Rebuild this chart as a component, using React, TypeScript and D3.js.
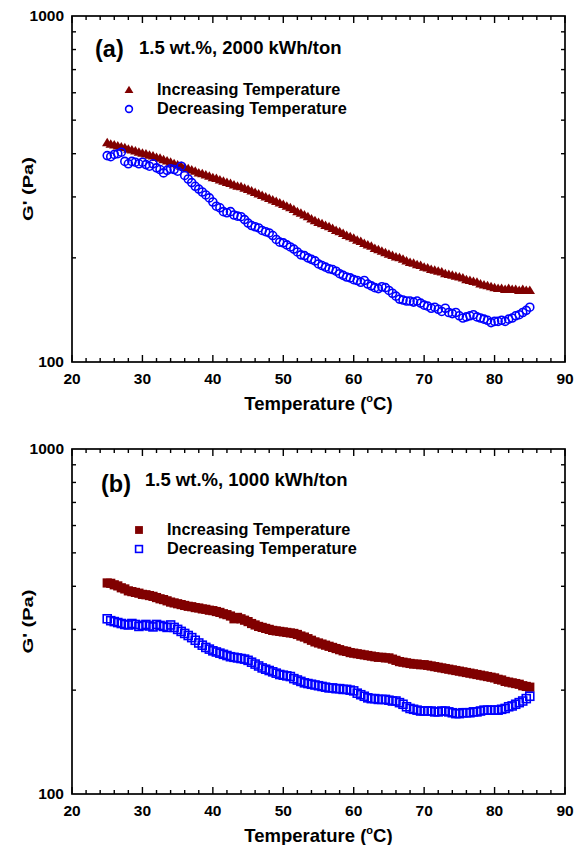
import React from 'react';
import * as d3 from 'd3';

// Temperatures (°C), one reading every 0.5 °C from 25 to 85
const temps: number[] = d3.range(0, 121).map((i) => 25 + i * 0.5);

const xMajorTicks = [20, 30, 40, 50, 60, 70, 80, 90];
const yLabelTicks = [100, 1000];
const yMinorTicks = [200, 300, 400, 500, 600, 700, 800, 900];

// Panel (a) 1.5 wt.%, 2000 kWh/ton
const aIncreasing = [
  430, 426, 424, 421, 418, 416, 412, 410, 407, 404,
  401, 399, 396, 394, 390, 388, 384, 381, 378, 374,
  371, 368, 365, 362, 359, 356, 352, 350, 347, 344,
  341, 339, 336, 333, 330, 328, 325, 322, 321, 318,
  315, 312, 309, 306, 303, 300, 297, 294, 291, 288,
  285, 282, 279, 276, 272, 269, 266, 263, 259, 256,
  253, 251, 248, 246, 243, 240, 238, 235, 232, 230,
  228, 225, 223, 220, 218, 216, 213, 211, 209, 207,
  205, 203, 201, 200, 198, 196, 194, 193, 191, 190,
  188, 187, 185, 184, 183, 182, 180, 179, 178, 177,
  176, 175, 173, 172, 171, 170, 168, 167, 166, 165,
  164, 163, 163, 162, 163, 162, 162, 161, 162, 161, 161,
];
const aDecreasing = [
  395, 392, 398, 400, 404, 380, 374, 380, 378, 374,
  378, 372, 368, 374, 364, 360, 352, 358, 362, 360,
  356, 368, 346, 338, 330, 322, 316, 310, 304, 298,
  290, 282, 279, 272, 270, 272, 266, 264, 263, 258,
  252, 248, 246, 244, 240, 238, 236, 232, 226, 222,
  221, 218, 215, 212, 208, 204, 203, 200, 198, 196,
  192, 190, 188, 186, 185, 183, 180, 178, 176, 175,
  173, 172, 170, 172, 168, 166, 164, 163, 165, 164,
  161, 158, 155, 152, 151, 150, 150, 149, 150, 148,
  146, 145, 143, 144, 142, 140, 143, 139, 138, 139,
  136, 134, 135, 136, 137, 135, 134, 133, 132, 130,
  131, 131, 132, 131, 133, 134, 136, 137, 139, 141, 144,
];

// Panel (b) 1.5 wt.%, 1000 kWh/ton
const bIncreasing = [
  409, 408, 404, 401, 396, 393, 388, 386, 384, 382,
  379, 378, 376, 374, 371, 368, 366, 363, 360, 358,
  356, 354, 352, 350, 349, 347, 346, 344, 343, 341,
  340, 338, 336, 333, 331, 328, 322, 325, 322, 319,
  316, 312, 309, 306, 304, 302, 300, 298, 297, 296,
  295, 294, 293, 292, 290, 287, 285, 282, 279, 276,
  274, 272, 270, 268, 266, 264, 262, 260, 259, 257,
  256, 255, 254, 253, 252, 251, 250, 249, 249, 248,
  248, 246, 244, 242, 241, 240, 239, 238, 238, 237,
  237, 236, 235, 234, 233, 232, 231, 230, 229, 228,
  227, 226, 225, 224, 223, 222, 221, 220, 219, 218,
  217, 215, 214, 212, 211, 210, 209, 208, 206, 205, 204,
];
const bDecreasing = [
  322, 318, 316, 314, 312, 310, 309, 312, 310, 306,
  308, 310, 307, 305, 310, 308, 306, 304, 309, 304,
  300, 296, 292, 288, 284, 279, 274, 270, 266, 263,
  260, 258, 256, 254, 252, 250, 249, 248, 247, 246,
  244, 241, 238, 235, 232, 230, 228, 226, 224, 222,
  221, 220, 219, 216, 214, 212, 210, 209, 208, 207,
  206, 205, 204, 203, 203, 202, 202, 201, 201, 200,
  199, 196, 194, 192, 190, 189, 189, 188, 188, 188,
  187, 186, 186, 184, 182, 179, 177, 176, 175, 174,
  174, 174, 174, 173, 173, 174, 174, 173, 172, 171,
  171, 172, 172, 172, 173, 173, 174, 175, 175, 175,
  175, 175, 176, 177, 179, 180, 182, 184, 186, 189, 192,
];

const FONT = "'Liberation Sans', Arial, Helvetica, sans-serif";
const RED = '#800000';
const BLUE = '#0000ff';

type Shape = 'triangle' | 'circle' | 'squareFilled' | 'squareOpen';

function Marker({ shape, x, y, s = 1 }: { shape: Shape; x: number; y: number; s?: number }) {
  if (shape === 'triangle') {
    const w = 5.2 * s;
    return <path d={`M${x},${y - 5 * s}L${x + w},${y + 3.5 * s}L${x - w},${y + 3.5 * s}Z`} fill={RED} />;
  }
  if (shape === 'circle') {
    return <circle cx={x} cy={y} r={4 * s} fill="none" stroke={BLUE} strokeWidth={1.6} />;
  }
  if (shape === 'squareFilled') {
    const h = 4.6 * s;
    return <rect x={x - h} y={y - h} width={2 * h} height={2 * h} fill={RED} />;
  }
  const h = 4 * s;
  return <rect x={x - h} y={y - h} width={2 * h} height={2 * h} fill="none" stroke={BLUE} strokeWidth={1.6} />;
}

interface PanelProps {
  top: number;
  bottom: number;
  left: number;
  right: number;
  tag: string;
  tagX: number;
  tagY: number;
  title: string;
  titleX: number;
  titleY: number;
  legendMarkerX: number;
  legendTextX: number;
  legendRowY: [number, number];
  incShape: Shape;
  decShape: Shape;
  inc: number[];
  dec: number[];
}

function Panel(p: PanelProps) {
  const x = d3.scaleLinear().domain([20, 90]).range([p.left, p.right]);
  const y = d3.scaleLog().domain([100, 1000]).range([p.bottom, p.top]);
  const xMinor = d3.range(20, 91, 2).filter((v) => v % 10 !== 0);
  const major = 7;
  const minor = 4;
  const midX = (p.left + p.right) / 2;
  const midY = (p.top + p.bottom) / 2;
  return (
    <g>
      {temps.map((t, i) => (
        <Marker key={'i' + i} shape={p.incShape} x={x(t)} y={y(p.inc[i])} />
      ))}
      {temps.map((t, i) => (
        <Marker key={'d' + i} shape={p.decShape} x={x(t)} y={y(p.dec[i])} />
      ))}
      <rect x={p.left} y={p.top} width={p.right - p.left} height={p.bottom - p.top} fill="none" stroke="#000" strokeWidth={1.7} />
      {xMajorTicks.map((v) => (
        <g key={'xm' + v}>
          <line x1={x(v)} x2={x(v)} y1={p.bottom} y2={p.bottom - major} stroke="#000" strokeWidth={1.4} />
          <line x1={x(v)} x2={x(v)} y1={p.top} y2={p.top + major} stroke="#000" strokeWidth={1.4} />
          <text x={x(v)} y={p.bottom + 22} textAnchor="middle" fontFamily={FONT} fontWeight="bold" fontSize={15.5}>
            {v}
          </text>
        </g>
      ))}
      {xMinor.map((v) => (
        <g key={'xn' + v}>
          <line x1={x(v)} x2={x(v)} y1={p.bottom} y2={p.bottom - minor} stroke="#000" strokeWidth={1.4} />
          <line x1={x(v)} x2={x(v)} y1={p.top} y2={p.top + minor} stroke="#000" strokeWidth={1.4} />
        </g>
      ))}
      {yMinorTicks.map((v) => (
        <g key={'yn' + v}>
          <line x1={p.left} x2={p.left + minor} y1={y(v)} y2={y(v)} stroke="#000" strokeWidth={1.4} />
          <line x1={p.right} x2={p.right - minor} y1={y(v)} y2={y(v)} stroke="#000" strokeWidth={1.4} />
        </g>
      ))}
      {yLabelTicks.map((v) => (
        <text key={'yl' + v} x={p.left - 8} y={y(v) + 5} textAnchor="end" fontFamily={FONT} fontWeight="bold" fontSize={15.5}>
          {v}
        </text>
      ))}
      <text x={midX} y={p.bottom + 48} textAnchor="middle" fontFamily={FONT} fontWeight="bold" fontSize={18.5}>
        Temperature (<tspan dy={-8} fontSize={11}>o</tspan>
        <tspan dy={8}>C)</tspan>
      </text>
      <text
        transform={`translate(${p.left - 39},${midY}) rotate(-90)`}
        textAnchor="middle"
        fontFamily={FONT}
        fontWeight="bold"
        fontSize={14}
        textLength={64}
        lengthAdjust="spacingAndGlyphs"
      >
        G' (Pa)
      </text>
      <text x={p.tagX} y={p.tagY} fontFamily={FONT} fontWeight="bold" fontSize={23.5}>
        {p.tag}
      </text>
      <text x={p.titleX} y={p.titleY} fontFamily={FONT} fontWeight="bold" fontSize={18.5}>
        {p.title}
      </text>
      <Marker shape={p.incShape} x={p.legendMarkerX} y={p.legendRowY[0]} s={0.85} />
      <text x={p.legendTextX} y={p.legendRowY[0] + 5} fontFamily={FONT} fontWeight="bold" fontSize={16.3}>
        Increasing Temperature
      </text>
      <Marker shape={p.decShape} x={p.legendMarkerX} y={p.legendRowY[1]} s={0.85} />
      <text x={p.legendTextX} y={p.legendRowY[1] + 5} fontFamily={FONT} fontWeight="bold" fontSize={16.3}>
        Decreasing Temperature
      </text>
    </g>
  );
}

export default function App() {
  return (
    <svg width={583} height={845} style={{ position: 'absolute', left: 0, top: 0, background: '#fff' }}>
      <rect width={583} height={845} fill="#fff" />
      <Panel
        top={16}
        bottom={362}
        left={72}
        right={565}
        tag="(a)"
        tagX={95}
        tagY={57}
        title="1.5 wt.%, 2000 kWh/ton"
        titleX={139}
        titleY={54}
        legendMarkerX={129}
        legendTextX={157}
        legendRowY={[90, 109]}
        incShape="triangle"
        decShape="circle"
        inc={aIncreasing}
        dec={aDecreasing}
      />
      <Panel
        top={449}
        bottom={794}
        left={72}
        right={565}
        tag="(b)"
        tagX={101}
        tagY={492}
        title="1.5 wt.%, 1000 kWh/ton"
        titleX={145}
        titleY={486}
        legendMarkerX={139}
        legendTextX={167}
        legendRowY={[530, 549]}
        incShape="squareFilled"
        decShape="squareOpen"
        inc={bIncreasing}
        dec={bDecreasing}
      />
    </svg>
  );
}
